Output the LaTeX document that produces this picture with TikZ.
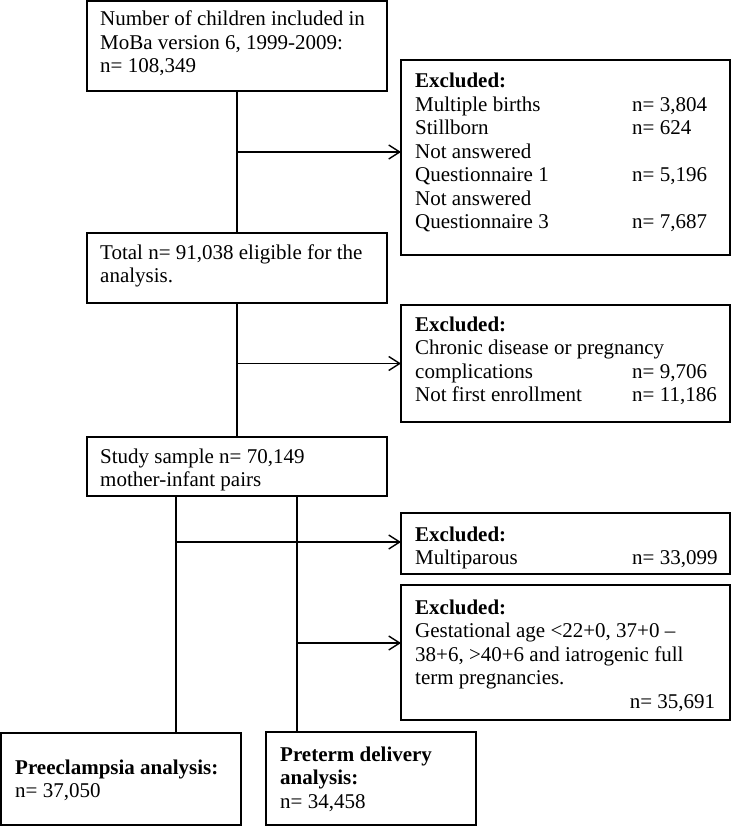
\documentclass[tikz,border=0pt]{standalone}
\usepackage{fontspec}
\setmainfont{Liberation Serif}
\usetikzlibrary{arrows.meta}
\begin{document}
\begin{tikzpicture}[x=1pt,y=-1pt,
  box/.style={draw,line width=1.6pt,inner sep=0pt,outer sep=0pt,anchor=north west},
  txt/.style={inner sep=0pt,anchor=base west,font=\fontsize{21}{23.5}\selectfont},
  link/.style={line width=1.6pt},
  arr/.style={line width=1.6pt,-{Straight Barb[length=11pt,width=14pt,line width=1.4pt]}}]
\useasboundingbox (0,0) rectangle (732,826);
% boxes
\node[box,minimum width=300pt,minimum height=90pt] (b1) at (87,1) {};
\node[box,minimum width=329pt,minimum height=195pt] (e1) at (401,60) {};
\node[box,minimum width=300pt,minimum height=70pt] (b2) at (87,233) {};
\node[box,minimum width=329pt,minimum height=117pt] (e2) at (401,305) {};
\node[box,minimum width=300pt,minimum height=59pt] (b3) at (87,437) {};
\node[box,minimum width=329pt,minimum height=61pt] (e3) at (401,513) {};
\node[box,minimum width=329pt,minimum height=135pt] (e4) at (401,585) {};
\node[box,minimum width=240pt,minimum height=92pt] (pe) at (1,733) {};
\node[box,minimum width=210pt,minimum height=93pt] (pt) at (266,732) {};
% texts
\node[txt] (t1) at (100,26) {\begin{tabular}[t]{@{}l@{}}Number of children included in\\MoBa version 6, 1999-2009:\\n= 108,349\end{tabular}};
\node[txt] (te1) at (415,88) {\begin{tabular}[t]{@{}p{217pt}@{}l@{}}\textbf{Excluded:}&\\Multiple births&n= 3,804\\Stillborn&n= 624\\Not answered&\\Questionnaire 1&n= 5,196\\Not answered&\\Questionnaire 3&n= 7,687\end{tabular}};
\node[txt] (t2) at (100,259) {\begin{tabular}[t]{@{}l@{}}Total n= 91,038 eligible for the\\analysis.\end{tabular}};
\node[txt] (te2) at (415,331) {\begin{tabular}[t]{@{}p{217pt}@{}l@{}}\textbf{Excluded:}&\\\multicolumn{2}{@{}l@{}}{Chronic disease or pregnancy}\\complications&n= 9,706\\Not first enrollment&n= 11,186\end{tabular}};
\node[txt] (t3) at (100,463) {\begin{tabular}[t]{@{}l@{}}Study sample n= 70,149\\mother-infant pairs\end{tabular}};
\node[txt] (te3) at (415,541) {\begin{tabular}[t]{@{}p{217pt}@{}l@{}}\textbf{Excluded:}&\\Multiparous&n= 33,099\end{tabular}};
\node[txt] (te4) at (415,614) {\begin{tabular}[t]{@{}p{300pt}@{}}\textbf{Excluded:}\\Gestational age <22+0, 37+0 –\\38+6, >40+6 and iatrogenic full\\term pregnancies.\\\hfill n= 35,691\end{tabular}};
\node[txt] (tpe) at (15,774) {\begin{tabular}[t]{@{}l@{}}\textbf{Preeclampsia analysis:}\\n= 37,050\end{tabular}};
\node[txt] (tpt) at (280,761) {\begin{tabular}[t]{@{}l@{}}\textbf{Preterm delivery}\\\textbf{analysis:}\\n= 34,458\end{tabular}};
% connectors
\draw[link] (b1.south) -- (b2.north);
\coordinate (j1) at (b1.south |- 0,152);
\draw[arr] (j1) -- (j1 -| e1.west);
\draw[link] (b2.south) -- (b3.north);
\coordinate (j2) at (b2.south |- e2.west);
\draw[arr] (j2) -- (e2.west);
\coordinate (s1) at ([xshift=89pt]b3.south west);
\coordinate (s2) at ([xshift=210pt]b3.south west);
\draw[link] (s1) -- (s1 |- pe.north);
\draw[link] (s2) -- (s2 |- pt.north);
\coordinate (j3) at (s1 |- 0,542);
\draw[arr] (j3) -- (j3 -| e3.west);
\coordinate (j4) at (s2 |- 0,643);
\draw[arr] (j4) -- (j4 -| e4.west);
\end{tikzpicture}
\end{document}
